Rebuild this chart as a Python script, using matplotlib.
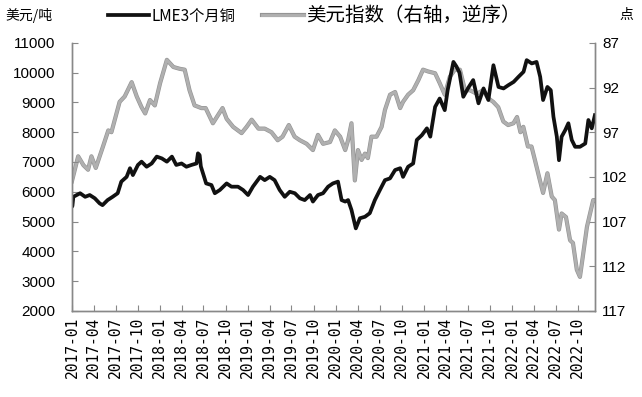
import matplotlib
matplotlib.use("Agg")
import matplotlib.pyplot as plt
import matplotlib.dates as mdates
import matplotlib.patheffects as pe
import pandas as pd

plt.rcParams['font.family'] = ['Noto Sans CJK SC', 'DejaVu Sans']

# LME 3个月铜 (美元/吨), 读图估计
cu_dates = [
    "2017-01-01", "2017-01-03", "2017-01-07", "2017-02-04", "2017-02-25", "2017-03-16",
    "2017-04-06", "2017-04-26", "2017-05-08", "2017-05-29", "2017-06-19", "2017-07-10",
    "2017-07-25", "2017-08-16", "2017-08-30", "2017-09-11", "2017-10-02", "2017-10-17",
    "2017-11-07", "2017-11-28", "2017-12-19", "2018-01-09", "2018-01-30", "2018-02-20",
    "2018-03-10", "2018-04-01", "2018-04-21", "2018-05-12", "2018-06-02", "2018-06-08",
    "2018-06-15", "2018-06-20", "2018-07-12", "2018-08-03", "2018-08-17", "2018-09-07",
    "2018-10-05", "2018-10-25", "2018-11-21", "2018-12-12", "2019-01-02", "2019-01-22",
    "2019-02-21", "2019-03-12", "2019-04-02", "2019-04-22", "2019-05-13", "2019-06-03",
    "2019-06-24", "2019-07-15", "2019-08-05", "2019-08-25", "2019-09-16", "2019-09-28",
    "2019-10-19", "2019-11-09", "2019-11-30", "2019-12-20", "2020-01-10", "2020-01-25",
    "2020-02-09", "2020-02-21", "2020-03-06", "2020-03-24", "2020-04-10", "2020-05-01",
    "2020-05-21", "2020-06-11", "2020-07-02", "2020-07-23", "2020-08-13", "2020-09-03",
    "2020-09-24", "2020-10-06", "2020-10-27", "2020-11-17", "2020-12-02", "2020-12-23",
    "2021-01-13", "2021-01-27", "2021-02-16", "2021-03-07", "2021-03-28", "2021-04-09",
    "2021-05-03", "2021-05-16", "2021-05-28", "2021-06-13", "2021-07-02", "2021-07-24",
    "2021-08-15", "2021-09-05", "2021-09-25", "2021-10-16", "2021-11-06", "2021-11-27",
    "2021-12-17", "2022-01-08", "2022-01-28", "2022-02-18", "2022-03-03", "2022-03-24",
    "2022-04-13", "2022-04-28", "2022-05-10", "2022-05-28", "2022-06-11", "2022-06-22",
    "2022-07-06", "2022-07-15", "2022-07-26", "2022-08-10", "2022-08-23", "2022-09-06",
    "2022-09-20", "2022-10-10", "2022-11-01", "2022-11-14", "2022-11-28", "2022-12-11",
]
cu_values = [
    5500, 5520, 5830, 5950, 5830, 5890,
    5780, 5610, 5550, 5720, 5830, 5950,
    6340, 6500, 6790, 6560, 6900, 7010,
    6840, 6950, 7180, 7120, 7010, 7180,
    6900, 6950, 6840, 6900, 6950, 7290,
    7230, 6850, 6280, 6225, 5950, 6060,
    6280, 6170, 6170, 6060, 5890, 6170,
    6500, 6390, 6500, 6390, 6060, 5830,
    6000, 5950, 5780, 5720, 5890, 5670,
    5890, 5950, 6170, 6280, 6340, 5720,
    5670, 5720, 5390, 4770, 5110, 5160,
    5280, 5720, 6060, 6390, 6450, 6730,
    6790, 6500, 6840, 6950, 7740, 7900,
    8130, 7850, 8850, 9130, 8740, 9410,
    10360, 10200, 10000, 9190, 9470, 9750,
    8970, 9470, 9080, 10250, 9520, 9470,
    9580, 9690, 9860, 10030, 10420, 10310,
    10360, 9860, 9080, 9520, 9410, 8520,
    7850, 7060, 7850, 8070, 8300, 7740,
    7510, 7510, 7620, 8410, 8130, 8570,
]

# 美元指数 (右轴, 逆序)
dxy_dates = [
    "2017-01-01", "2017-01-27", "2017-02-18", "2017-03-09", "2017-03-23", "2017-04-10",
    "2017-05-10", "2017-06-01", "2017-06-14", "2017-06-28", "2017-07-18", "2017-08-08",
    "2017-09-06", "2017-09-27", "2017-10-17", "2017-11-01", "2017-11-21", "2017-12-11",
    "2018-01-02", "2018-01-30", "2018-02-26", "2018-03-24", "2018-04-14", "2018-05-04",
    "2018-05-25", "2018-06-22", "2018-07-10", "2018-08-09", "2018-08-30", "2018-09-18",
    "2018-10-05", "2018-11-01", "2018-12-06", "2018-12-27", "2019-01-17", "2019-02-14",
    "2019-03-12", "2019-04-09", "2019-05-05", "2019-05-25", "2019-06-20", "2019-07-14",
    "2019-08-05", "2019-09-02", "2019-09-28", "2019-10-19", "2019-11-09", "2019-12-08",
    "2019-12-28", "2020-01-19", "2020-02-09", "2020-02-21", "2020-03-06", "2020-03-20",
    "2020-04-02", "2020-04-17", "2020-05-01", "2020-05-13", "2020-05-28", "2020-06-18",
    "2020-07-09", "2020-07-23", "2020-08-13", "2020-09-03", "2020-09-24", "2020-10-06",
    "2020-10-27", "2020-11-17", "2020-12-08", "2020-12-28", "2021-01-18", "2021-02-16",
    "2021-03-07", "2021-03-28", "2021-04-18", "2021-05-09", "2021-05-30", "2021-06-20",
    "2021-07-10", "2021-08-08", "2021-09-03", "2021-09-24", "2021-10-15", "2021-11-05",
    "2021-11-26", "2021-12-16", "2022-01-07", "2022-01-22", "2022-02-05", "2022-02-17",
    "2022-03-08", "2022-03-23", "2022-04-06", "2022-04-27", "2022-05-10", "2022-05-28",
    "2022-06-15", "2022-06-28", "2022-07-15", "2022-07-26", "2022-08-13", "2022-08-30",
    "2022-09-11", "2022-09-27", "2022-10-10", "2022-10-22", "2022-11-08", "2022-11-21",
    "2022-12-04", "2022-12-11",
]
dxy_values = [
    102.5, 99.7, 100.7, 101.2, 99.7, 101.0,
    98.6, 96.8, 97.0, 95.6, 93.6, 93.0,
    91.4, 93.0, 94.2, 94.9, 93.4, 94.0,
    91.5, 88.9, 89.7, 89.9, 90.0, 92.3,
    94.0, 94.3, 94.3, 96.0, 95.1, 94.3,
    95.5, 96.4, 97.1, 96.4, 95.6, 96.6,
    96.6, 97.0, 97.9, 97.5, 96.2, 97.5,
    97.9, 98.3, 99.0, 97.3, 98.3, 98.1,
    96.8, 97.5, 99.0, 97.9, 96.0, 102.4,
    99.0, 100.1, 99.4, 99.9, 97.5, 97.5,
    96.4, 94.5, 92.8, 92.5, 94.3, 93.6,
    92.8, 92.3, 91.2, 90.0, 90.2, 90.4,
    91.5, 92.8, 90.8, 90.0, 90.0, 92.3,
    92.3, 92.7, 92.3, 93.2, 93.6, 94.2,
    95.8, 96.2, 96.0, 95.3, 97.0, 96.4,
    98.6, 98.6, 100.1, 102.4, 103.8, 101.6,
    104.2, 104.6, 107.9, 106.1, 106.5, 109.1,
    109.4, 112.4, 113.2, 110.9, 107.6, 106.1,
    104.6, 104.6,
]

cu_x = pd.to_datetime(cu_dates)
dxy_x = pd.to_datetime(dxy_dates)

fig = plt.figure(figsize=(6.42, 3.97), dpi=100)
ax1 = fig.add_axes([0.112, 0.217, 0.815, 0.675])
ax2 = ax1.twinx()

l2, = ax2.plot(dxy_x, dxy_values, color="#b0b0b0", lw=2.1, label="美元指数（右轴，逆序）",
               path_effects=[pe.Stroke(linewidth=3.0, foreground="#949494"), pe.Normal()])
l1, = ax1.plot(cu_x, cu_values, color="#111111", lw=2.7, label="LME3个月铜")

ax1.set_zorder(ax2.get_zorder() + 1)
ax1.patch.set_visible(False)

ax1.set_ylim(2000, 11000)
ax1.set_yticks(range(2000, 11001, 1000))
ax2.set_ylim(117, 87)
ax2.set_yticks([87, 92, 97, 102, 107, 112, 117])
ax1.set_xlim(pd.Timestamp("2017-01-01"), pd.Timestamp("2022-12-12"))

ax1.xaxis.set_major_locator(mdates.MonthLocator(bymonth=[1, 4, 7, 10]))
ax1.xaxis.set_major_formatter(mdates.DateFormatter("%Y-%m"))

spine_col = "#888888"
for ax in (ax1, ax2):
    ax.spines["top"].set_visible(False)
    for s in ("left", "right", "bottom"):
        ax.spines[s].set_color(spine_col)
        ax.spines[s].set_linewidth(1.0)
    ax.tick_params(direction="in", color=spine_col, length=4, width=0.8)

ax1.tick_params(axis="y", pad=12, labelsize=11)
ax2.tick_params(axis="y", pad=5, labelsize=11)
ax1.tick_params(axis="x", pad=4)
for t in ax1.get_yticklabels() + ax2.get_yticklabels():
    t.set_family("Liberation Sans")
for t in ax1.get_xticklabels():
    t.set_family("DejaVu Sans Mono")
    t.set_fontsize(10.5)
    t.set_rotation(90)

fig.text(0.008, 0.962, "美元/吨", fontsize=10, va="center", ha="left")
fig.text(0.975, 0.962, "点", fontsize=10, va="center", ha="center")

leg = fig.legend(handles=[l1, l2], loc="center", bbox_to_anchor=(0.489, 0.96), ncol=2,
                 frameon=False, fontsize=13, handlelength=2.3, handletextpad=0.12,
                 columnspacing=1.5, borderaxespad=0)
leg.get_texts()[0].set_fontsize(11)
leg.get_texts()[1].set_fontsize(14)

fig.savefig("out.png", dpi=100)
